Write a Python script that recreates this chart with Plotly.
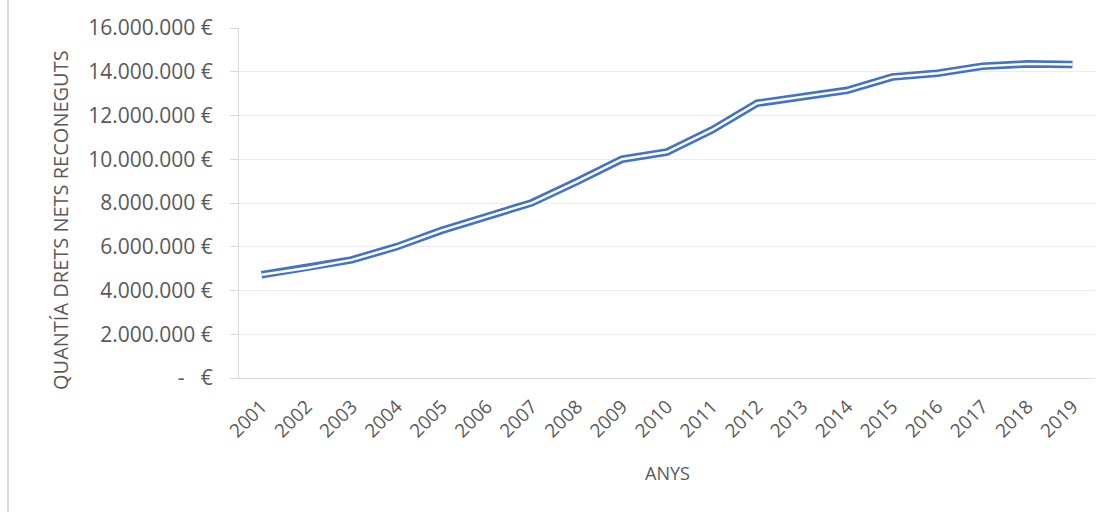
import plotly.graph_objects as go

years = [str(y) for y in range(2001, 2020)]
amounts = [4720000, 5030000, 5400000, 6000000, 6750000, 7380000, 8010000, 8980000,
           10000000, 10330000, 11340000, 12560000, 12850000, 13150000, 13760000,
           13930000, 14250000, 14360000, 14330000]
ytick_vals = [0, 2000000, 4000000, 6000000, 8000000, 10000000, 12000000, 14000000, 16000000]
ytick_text = ["-\u00a0\u00a0\u00a0€", "2.000.000 €", "4.000.000 €", "6.000.000 €", "8.000.000 €",
              "10.000.000 €", "12.000.000 €", "14.000.000 €", "16.000.000 €"]
y_title = "QUANTÍA DRETS NETS RECONEGUTS"
x_title = "ANYS"

FONT = "Open Sans"
TXT = "#595959"

fig = go.Figure()
fig.add_trace(go.Scatter(x=years, y=amounts, mode="lines",
                         line=dict(color="#4472C4", width=7.6), hoverinfo="skip", showlegend=False))
fig.add_trace(go.Scatter(x=years, y=amounts, mode="lines",
                         line=dict(color="white", width=2.4), showlegend=False))

fig.update_layout(
    width=1112, height=512,
    margin=dict(l=239, r=17, t=28, b=134),
    paper_bgcolor="white", plot_bgcolor="white",
    font=dict(family=FONT, size=20, color=TXT),
    xaxis=dict(type="category", range=[-0.5, 18.5], showline=True, linecolor="#d9d9d9",
               linewidth=1, showgrid=False, ticks="", tickangle=-45,
               tickfont=dict(family=FONT, size=19, color=TXT), ticklabelstandoff=9),
    yaxis=dict(range=[0, 16000000], tickvals=ytick_vals, ticktext=ytick_text,
               showline=True, linecolor="#d9d9d9", linewidth=1,
               showgrid=True, gridcolor="#ececec", gridwidth=1,
               ticks="outside", ticklen=8, tickcolor="#d9d9d9",
               tickfont=dict(family=FONT, size=21, color=TXT), ticklabelstandoff=13,
               zeroline=False),
    annotations=[
        dict(text=y_title, xref="paper", yref="paper", x=(60 - 239) / 856, y=(378 - 220) / 350,
             textangle=-90, showarrow=False, font=dict(family=FONT, size=20, color=TXT),
             xanchor="center", yanchor="middle"),
        dict(text=x_title, xref="paper", yref="paper", x=0.5, y=(378 - 473) / 350,
             showarrow=False, font=dict(family=FONT, size=18, color=TXT),
             xanchor="center", yanchor="middle"),
    ],
    shapes=[dict(type="line", xref="paper", yref="paper", x0=(8 - 239) / 856, x1=(8 - 239) / 856,
                 y0=-134 / 350 - 0.01, y1=1 + 28 / 350 + 0.01,
                 line=dict(color="#d9d9d9", width=2))],
)

fig.write_html("out.html")
